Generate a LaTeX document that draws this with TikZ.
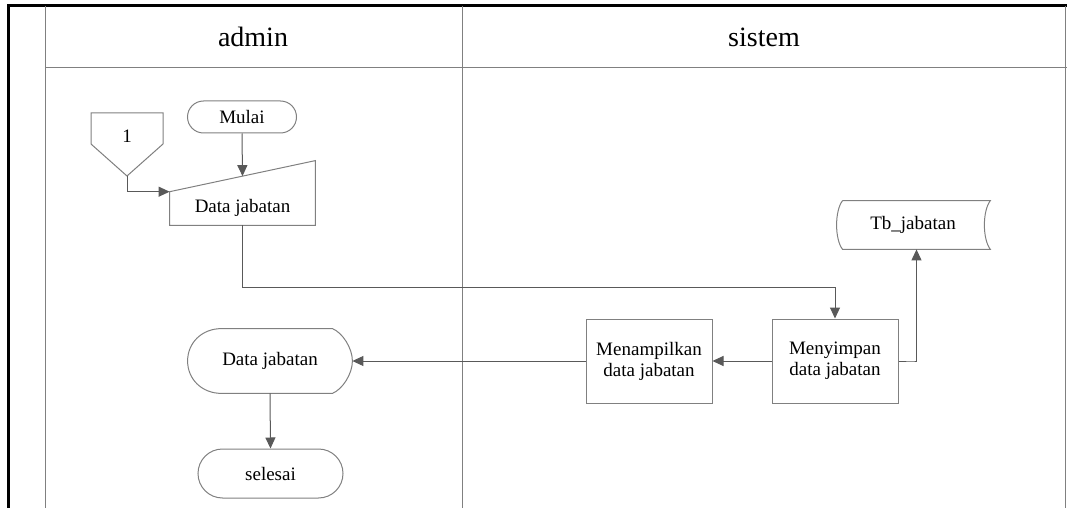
\documentclass[tikz,border=0pt]{standalone}
\usepackage{fontspec}
\setmainfont{Liberation Serif}
\usetikzlibrary{arrows.meta,shapes,calc}

\begin{document}
\begin{tikzpicture}
[x=0.5pt,y=-0.5pt]
\tikzset{
	garis/.style = {draw=black!50, line width=0.5pt},
	panah/.style = {draw=black!65, line width=0.5pt, -{Triangle[length=5.5pt,width=5pt]}},
	teks/.style = {font=\fontsize{9.5}{10.5}\selectfont, align=center},
	judul/.style = {font=\fontsize{14}{16}\selectfont},
	terminal/.style = {rounded rectangle, garis, teks, inner sep=0pt},
	proses/.style = {rectangle, garis, teks, minimum width=63pt, minimum height=42pt, inner sep=0pt},
	kosong/.style = {rectangle, inner sep=0pt}
}
\useasboundingbox (0,0) rectangle (1067,508);

% swimlane
\draw[black, line width=1.5pt] (8,508) -- (8,6) -- (1067,6);
\draw[garis] (45,6) -- (45,508);
\draw[garis] (462,6) -- (462,508);
\draw[garis] (1065,6) -- (1065,508);
\draw[garis] (45,68) -- (1067,68);
\node (admin) [judul] at (253,37) {admin};
\node (sistem) [judul] at (764,37) {sistem};

% admin
\node (mulai) [terminal, minimum width=54.5pt, minimum height=16pt] at (242,117) {Mulai};

\node (konektor) [teks] at (127,136) {1};
\draw[garis] (91,113) -- (163,113) -- (163,144) -- (127,176) coordinate (konbawah) -- (91,144) -- cycle;

\node (input) [kosong, minimum width=72.5pt, minimum height=32pt] at (242.5,193) {};
\node (inputteks) [teks] at (242.5,208) {Data jabatan};
\coordinate (inkiri) at ($(input.north west)!0.48!(input.south west)$);
\coordinate (inmiring) at ($(inkiri)!0.5!(input.north east)$);
\draw[garis] (inkiri) -- (input.north east) -- (input.south east) -- (input.south west) -- cycle;

\node (tampil) [kosong, minimum width=82pt, minimum height=32pt] at (270,361) {};
\node (tampilteks) [teks] at (270,361) {Data jabatan};
\draw[garis] ($(tampil.north west)+(34,0)$) -- ($(tampil.north east)+(-20,0)$)
	.. controls +(10,4) and +(0,-13) .. (tampil.east)
	.. controls +(0,13) and +(10,-4) .. ($(tampil.south east)+(-20,0)$)
	-- ($(tampil.south west)+(34,0)$)
	.. controls +(-20,0) and +(0,18) .. (tampil.west)
	.. controls +(0,-18) and +(-20,0) .. ($(tampil.north west)+(34,0)$);

\node (selesai) [terminal, minimum width=72.5pt, minimum height=24.5pt] at (270.5,473.5) {selesai};

% sistem
\node (simpan) [proses] at (835,361) {Menyimpan\\data jabatan};
\node (tampilkan) [proses] at (649,361) {Menampilkan\\data jabatan};

\node (tabel) [kosong, minimum width=73.5pt, minimum height=24pt] at (916.5,225) {};
\node (tabelteks) [teks] at (913,225) {Tb\_jabatan};
\draw[garis] (tabel.north west) -- (tabel.north east)
	.. controls +(-8,10) and +(-8,-10) .. (tabel.south east)
	-- (tabel.south west)
	.. controls +(-8,-10) and +(-8,10) .. (tabel.north west);

% alur
\draw[panah] (mulai.south) -- (inmiring);
\draw[panah] (konbawah) |- (inkiri);
\draw[panah] (input.south) -- ++(0,62) -| (simpan.north);
\draw[panah] (simpan.east) -- ++(15,0) -| (tabel.south);
\draw[panah] (simpan.west) -- (tampilkan.east);
\draw[panah] (tampilkan.west) -- (tampil.east);
\draw[panah] (tampil.south) -- (selesai.north);

\end{tikzpicture}
\end{document}
